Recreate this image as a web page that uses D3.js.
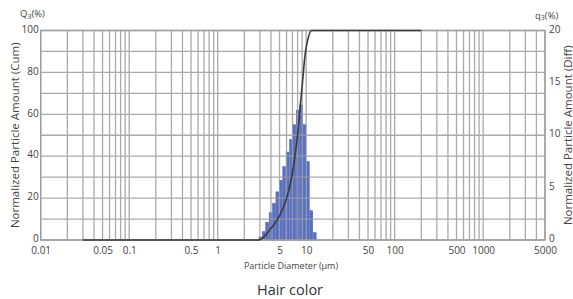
<!DOCTYPE html>
<html>
<head>
<meta charset="utf-8">
<script src="https://cdn.jsdelivr.net/npm/d3@7"></script>
<style>
  html, body { margin: 0; padding: 0; background: #fff; }
  svg { display: block; font-family: "Open Sans", "Noto Sans", sans-serif; }
</style>
</head>
<body>
<svg id="chart" width="573" height="299"></svg>
<script>
// ---- data ----
const xTickLabels = [0.01, 0.05, 0.1, 0.5, 1, 5, 10, 50, 100, 500, 1000, 5000];
const leftTicks = [0, 20, 40, 60, 80, 100];
const rightTicks = [0, 5, 10, 15, 20];
// histogram channel edges (µm) and frequency q3 (%)
const channelEdges = [2.900, 3.169, 3.462, 3.783, 4.133, 4.516, 4.934, 5.391, 5.890,
                      6.436, 7.032, 7.683, 8.394, 9.172, 10.02, 10.95, 11.96, 13.07];
const q3Values = [0.3, 0.8, 1.7, 2.6, 3.5, 4.6, 5.7, 7.0, 8.4, 9.6, 11.0, 12.4, 12.9, 11.0, 7.5, 2.8, 0.7];
// cumulative curve Q3 (%)
const cumSizes  = [0.03, 1.0, 2.876, 3.42, 3.90, 4.44, 5.06, 6.02, 6.86, 7.47, 8.08, 8.62, 9.08, 9.69, 10.48, 11.54, 12.5, 200];
const cumValues = [0,    0,   0,     2,    5,    8,    12,   20,   30,   40,   52,   65,   75,   88,   96,    100,   100,  100];
const title = "Hair color";

// ---- chart ----
(function () {
const svg = d3.select("#chart");
const mLeft = 40.7, mRight = 545, mTop = 30.5, mBottom = 240;

const x = d3.scaleLog().domain([0.01, 5000]).range([mLeft, mRight]);
const yL = d3.scaleLinear().domain([0, 100]).range([mBottom, mTop]);
const yR = d3.scaleLinear().domain([0, 20]).range([mBottom, mTop]);

svg.append("rect").attr("x", mLeft).attr("y", mTop)
  .attr("width", mRight - mLeft).attr("height", mBottom - mTop).attr("fill", "#fff");

// histogram bars
const bars = svg.append("g");
q3Values.forEach((v, i) => {
  const x0 = x(channelEdges[i]), x1 = x(channelEdges[i + 1]);
  bars.append("rect")
    .attr("x", x0 + 0.3)
    .attr("width", Math.max(0.5, x1 - x0 - 0.6))
    .attr("y", yR(v))
    .attr("height", yR(0) - yR(v))
    .attr("fill", "#5670c8")
    .attr("stroke", "#3b52a8")
    .attr("stroke-width", 0.4);
});

// grid
const grid = svg.append("g").attr("stroke", "#9c9c9c").attr("stroke-width", 1.3).attr("opacity", 0.85);
x.ticks().forEach(t => {
  grid.append("line").attr("x1", x(t)).attr("x2", x(t)).attr("y1", mTop).attr("y2", mBottom);
});
d3.range(0, 101, 10).forEach(t => {
  grid.append("line").attr("x1", mLeft).attr("x2", mRight).attr("y1", yL(t)).attr("y2", yL(t));
});
svg.append("rect").attr("x", mLeft).attr("y", mTop)
  .attr("width", mRight - mLeft).attr("height", mBottom - mTop)
  .attr("fill", "none").attr("stroke", "#9c9c9c").attr("stroke-width", 1.3);

// cumulative curve
const line = d3.line()
  .x((d, i) => x(cumSizes[i]))
  .y(d => yL(d))
  .curve(d3.curveMonotoneX);
svg.append("path").datum(cumValues)
  .attr("d", line)
  .attr("fill", "none")
  .attr("stroke", "#3a3a3a")
  .attr("stroke-width", 1.6);

// axes
const fmt = d => String(d);
const axL = svg.append("g").attr("transform", `translate(${mLeft - 2},-1.5)`)
  .call(d3.axisLeft(yL).tickValues(leftTicks).tickSize(0).tickPadding(0).tickFormat(fmt));
const axR = svg.append("g").attr("transform", `translate(${mRight + 4},-1.5)`)
  .call(d3.axisRight(yR).tickValues(rightTicks).tickSize(0).tickPadding(0).tickFormat(fmt));
const axB = svg.append("g").attr("transform", `translate(0,${mBottom + 6})`)
  .call(d3.axisBottom(x).tickValues(xTickLabels).tickSize(0).tickPadding(1).tickFormat(fmt));
[axL, axR, axB].forEach(a => {
  a.select(".domain").remove();
  a.selectAll("text").attr("font-family", "'Open Sans', sans-serif")
    .attr("font-size", 10).attr("fill", "#444");
});

// unit labels
const q = svg.append("text").attr("x", 20).attr("y", 17)
  .attr("font-size", 9.5).attr("fill", "#444");
q.append("tspan").text("Q");
q.append("tspan").attr("font-size", 7).attr("dy", 2).text("3");
q.append("tspan").attr("dy", -2).text("(%)");
const q2 = svg.append("text").attr("x", 535).attr("y", 19)
  .attr("font-size", 9.5).attr("fill", "#444");
q2.append("tspan").text("q");
q2.append("tspan").attr("font-size", 7).attr("dy", 1).text("3");
q2.append("tspan").attr("dy", -1).text("(%)");

// axis titles
svg.append("text")
  .attr("transform", `translate(19,${(mTop + mBottom) / 2}) rotate(-90)`)
  .attr("text-anchor", "middle")
  .attr("font-size", 11.5).attr("fill", "#444")
  .text("Normalized Particle Amount (Cum)");
svg.append("text")
  .attr("transform", `translate(572,${(mTop + mBottom) / 2}) rotate(-90)`)
  .attr("text-anchor", "middle")
  .attr("font-size", 11.5).attr("fill", "#444")
  .text("Normalized Particle Amount (Diff)");
svg.append("text")
  .attr("x", 291).attr("y", 269)
  .attr("text-anchor", "middle")
  .attr("font-size", 9).attr("fill", "#444")
  .text("Particle Diameter (µm)");
svg.append("text")
  .attr("x", 290).attr("y", 295)
  .attr("text-anchor", "middle")
  .attr("font-size", 14.5).attr("fill", "#333")
  .text(title);
})();
</script>
</body>
</html>
